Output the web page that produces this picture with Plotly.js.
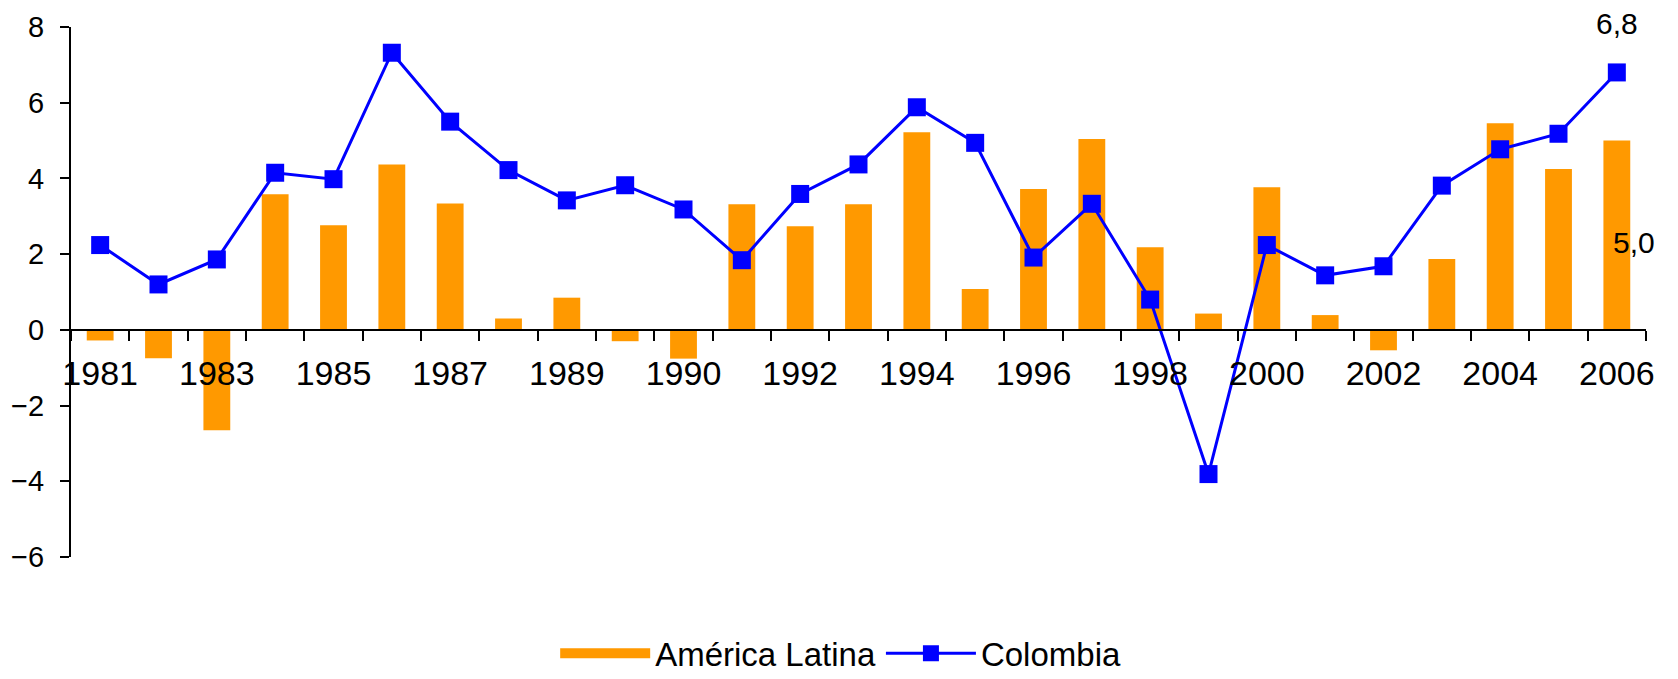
<!DOCTYPE html>
<html>
<head>
<meta charset="utf-8">
<script src="https://cdn.plot.ly/plotly-3.0.1.min.js"></script>
<style>html,body{margin:0;padding:0;background:#fff;}#chart{width:1678px;height:679px;}</style>
</head>
<body>
<div id="chart"></div>
<script>
// 27 periods on the category axis; labels shown every other period, as in the original
var tickLabels = ['1981','','1983','','1985','','1987','','1989','','1990','','1992','','1994','','1996','','1998','','2000','','2002','','2004','','2006'];
var americaLatina = [-0.28,-0.75,-2.65,3.58,2.76,4.37,3.34,0.30,0.85,-0.30,-0.76,3.32,2.74,3.32,5.22,1.08,3.72,5.04,2.18,0.43,3.77,0.39,-0.54,1.87,5.46,4.25,5.0];
var colombia = [2.24,1.20,1.86,4.15,3.98,7.32,5.50,4.22,3.42,3.82,3.18,1.84,3.59,4.37,5.88,4.94,1.91,3.33,0.80,-3.81,2.24,1.44,1.68,3.81,4.77,5.18,6.8];
var seriesNames = ['América Latina','Colombia'];

var idx = tickLabels.map(function(_, i){ return i; });
var tickvals = idx.filter(function(i){ return tickLabels[i] !== ''; });
var ticktext = tickvals.map(function(i){ return tickLabels[i]; });
var boundaries = [];
for (var b = -0.5; b <= tickLabels.length - 0.5; b += 1) boundaries.push(b);

var FONT = 'Liberation Sans, Arial, sans-serif';
var ORANGE = '#FF9900', BLUE = '#0000FF';
var last = idx.length - 1;
function fmt(v){ return v.toFixed(1).replace('.', ','); }

var traces = [
  {type:'bar', name:seriesNames[0], x:idx, y:americaLatina, width:0.46,
   marker:{color:ORANGE}, hoverinfo:'skip', showlegend:false},
  // legend entry for the bars (wide swatch as in the original)
  {type:'scatter', mode:'lines', name:seriesNames[0], x:[null], y:[null],
   line:{color:ORANGE, width:22}, hoverinfo:'skip', showlegend:true},
  {type:'scatter', mode:'lines+markers', name:seriesNames[1], x:idx, y:colombia,
   line:{color:BLUE, width:3}, marker:{symbol:'square', size:18, color:BLUE}, hoverinfo:'skip'}
];

var layout = {
  width:1678, height:679,
  margin:{l:71, r:32, t:27, b:122},
  paper_bgcolor:'#fff', plot_bgcolor:'#fff',
  separators:',.',
  font:{family:FONT, color:'#000', size:30},
  showlegend:true,
  legend:{orientation:'h', xref:'container', yref:'container', x:0.501, xanchor:'center', y:0.038, yanchor:'middle',
          font:{family:FONT, size:33, color:'#000'}, traceorder:'normal', itemwidth:90},
  xaxis:{
    range:[-0.5, idx.length - 0.5], anchor:'free', position:6/14,
    showgrid:false, zeroline:false, showline:true, linecolor:'#000', linewidth:2,
    tickmode:'array', tickvals:tickvals, ticktext:ticktext,
    ticks:'outside', ticklen:0, tickfont:{family:FONT, size:34, color:'#000'},
    ticklabelstandoff:13,
    minor:{tickmode:'array', tickvals:boundaries, ticks:'outside', ticklen:10, tickwidth:2, tickcolor:'#000', showgrid:false}
  },
  yaxis:{
    range:[-6, 8], domain:[0,1], tickmode:'linear', tick0:-6, dtick:2,
    showgrid:false, zeroline:false, showline:true, linecolor:'#000', linewidth:2,
    ticks:'outside', ticklen:9, tickwidth:2, tickcolor:'#000',
    tickfont:{family:FONT, size:29, color:'#000'}, ticklabelstandoff:10
  },
  annotations:[
    {x:last, y:1.006, xref:'x', yref:'paper', text:fmt(colombia[last]), showarrow:false,
     font:{family:FONT, size:30, color:'#000'}, xanchor:'center', yanchor:'middle'},
    {x:last + 0.3, y:2.3, xref:'x', yref:'y', text:fmt(americaLatina[last]), showarrow:false,
     font:{family:FONT, size:30, color:'#000'}, xanchor:'center', yanchor:'middle'}
  ]
};

Plotly.newPlot('chart', traces, layout, {staticPlot:true, displayModeBar:false});
</script>
</body>
</html>
